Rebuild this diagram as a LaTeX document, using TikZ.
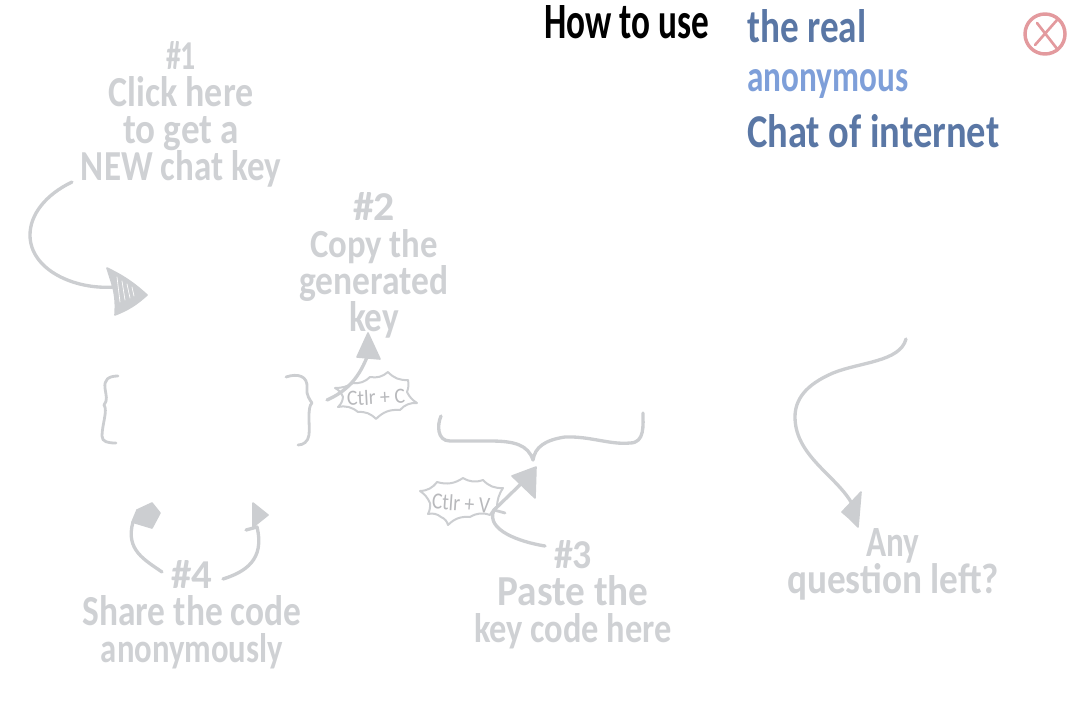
\documentclass[tikz,border=0pt]{standalone}
\usepackage{graphicx}
\usepackage{fontspec}
\setmainfont{Carlito}
\newdimen\pxu \pxu=.75pt
\newcommand\fitw[3]{\rule[-.36\baselineskip]{0pt}{\baselineskip}\smash{\resizebox{#1\pxu}{#2\pxu}{#3}}}
\definecolor{hint}{HTML}{CFD1D4}
\definecolor{hintline}{HTML}{CCCED1}
\definecolor{blued}{HTML}{5A77A5}
\definecolor{bluel}{HTML}{7E9FD9}
\definecolor{closered}{HTML}{E39A9E}
\tikzset{
  hinttext/.style={align=center,inner sep=0pt,text=hint,font=\bfseries\fontsize{24}{27.75}\selectfont},
  titletext/.style={inner sep=0pt,font=\bfseries\fontsize{24}{27.75}\selectfont},
  burstlabel/.style={inner sep=0pt,text=hintline!90!black,font=\fontsize{12}{14}\selectfont},
  curve/.style={draw=hintline,line width=2.5pt,line cap=round,line join=round},
  thincurve/.style={draw=hintline,line width=2.1pt,line cap=round,line join=round},
  tiphead/.style={fill=hintline,draw=hintline,line width=1.2pt,line join=round},
  scribble/.style={draw=white,line width=.5pt,line cap=round},
  burst/.style={draw=hintline,line width=1.5pt,line join=round,fill=white},
}
\begin{document}
\begin{tikzpicture}[x=.75pt,y=-.75pt]
\useasboundingbox (0,0) rectangle (1080,720);
% text blocks
\node[hinttext] (step1) at (181,120) {\fitw{30}{28}{\#1}\\\fitw{145}{30}{Click here}\\\fitw{116}{27}{to get a}\\\fitw{200}{30}{NEW chat key}};
\node[hinttext] (step2) at (374,271) {\fitw{42}{28}{\#2}\\\fitw{128}{28}{Copy the}\\\fitw{149}{29}{generated}\\\fitw{50}{30}{key}};
\node[hinttext] (step3) at (573,600) {\fitw{38}{28}{\#3}\\\fitw{151}{30}{Paste the}\\\fitw{198}{29}{key code here}};
\node[hinttext] (step4) at (192,620) {\fitw{41}{28}{\#4}\\\fitw{219}{30}{Share the code}\\\fitw{182}{29}{anonymously}};
\node[hinttext] (anyq) at (893,570) {\fitw{53}{28}{Any}\\\fitw{212}{30}{question left?}};
\node[titletext,text=black,anchor=base] (howto) at (627,39) {\resizebox{165\pxu}{33\pxu}{How to use}};
\node[titletext,text=blued,anchor=base west] (real) at (747,43) {\resizebox{119\pxu}{33\pxu}{the real}};
\node[titletext,text=bluel,anchor=base west] (anon) at (747,92) {\resizebox{161\pxu}{22\pxu}{anonymous}};
\node[titletext,text=blued,anchor=base west] (chat) at (747,148) {\resizebox{252\pxu}{33\pxu}{Chat of internet}};
% close button
\node[circle,draw=closered,line width=2.6pt,minimum size=30pt,inner sep=0pt] (closebtn) at (1045,34) {};
\coordinate (xa) at (1037,23); \coordinate (xb) at (1058,50);
\coordinate (xc) at (1057,20); \coordinate (xd) at (1035,45);
\draw[draw=closered,line width=2pt,line cap=round] (xa) -- (xb) (xc) -- (xd);
% arrow 1
\coordinate (a1s) at (72,182); \coordinate (a1m) at (30,235); \coordinate (a1e) at (114,287);
\draw[curve] (a1s) .. controls (45,195) and (30,215) .. (a1m) .. controls (30,270) and (75,290) .. (a1e);
\fill[tiphead] (107,268) to[bend left=8] (147,295) to[bend left=10] (115,315) to[bend right=8] (113,287) -- cycle;
\draw[scribble] (117,277) -- (120,302) (122,281) -- (125,300) (127,284) -- (130,298) (132,287) -- (134,296);
% braces
\coordinate (bl1) at (118,376); \coordinate (bl2) at (116,443);
\draw[thincurve] (bl1) .. controls (108,376) and (104,380) .. (105,388) .. controls (106,396) and (108,400) .. (104,405) .. controls (108,410) and (102,425) .. (102,436) .. controls (102,442) and (108,443) .. (bl2);
\coordinate (br1) at (286,377); \coordinate (br2) at (298,445);
\draw[thincurve] (br1) .. controls (298,373) and (308,376) .. (307,388) .. controls (306,395) and (310,400) .. (312,403) .. controls (307,407) and (310,425) .. (309,435) .. controls (308,442) and (303,445) .. (br2);
\coordinate (bb1) at (441,416); \coordinate (bb2) at (643,413); \coordinate (bbt) at (533,460);
\draw[curve] (bb1) .. controls (437,425) and (437,441) .. (450,441) -- (490,441) .. controls (515,441) and (528,445) .. (bbt) .. controls (535,447) and (545,440) .. (565,437) .. controls (590,436) and (610,445) .. (630,443) .. controls (645,443) and (643,425) .. (bb2);
% burst C
\draw[burst] (335,388) to[bend right=15] (353,383) to[bend right=25] (370,377) to[bend right=25] (388,372) to[bend right=25] (408,380) to[bend left=15] (407,392) to[bend right=15] (417,403) to[bend right=25] (400,410) to[bend right=25] (376,419) to[bend right=25] (358,412) to[bend right=25] (338,407) to[bend right=20] (343,397) to[bend right=20] cycle;
\node[burstlabel,rotate=3] (ctrlc) at (376,397) {\resizebox{58\pxu}{15\pxu}{Ctlr + C}};
% arrow 2
\coordinate (a2s) at (327,400); \coordinate (a2e) at (367,357);
\draw[curve] (a2s) .. controls (345,392) and (358,380) .. (a2e);
\fill[tiphead] (368,333) -- (380,359) -- (357,357) -- cycle;
% burst V
\draw[burst] (420,491) to[bend right=25] (437,482) to[bend right=25] (463,478) to[bend right=25] (483,480) to[bend right=25] (503,488) to[bend right=15] (497,507) to[bend right=15] (490,515) to[bend right=25] (470,517) to[bend right=25] (448,525) to[bend right=25] (441,517) to[bend right=25] (428,514) to[bend right=15] (430,503) to[bend right=15] cycle;
\node[burstlabel,rotate=-4] (ctrlv) at (461,503) {\resizebox{58\pxu}{16\pxu}{Ctlr + V}};
% arrow 3
\coordinate (a3s) at (545,546); \coordinate (a3m) at (494,510); \coordinate (a3e) at (525,480); \coordinate (a3t) at (505,513);
\draw[curve] (a3s) .. controls (520,542) and (485,530) .. (a3m) -- (a3e);
\draw[thincurve] (a3m) -- (a3t);
\fill[tiphead] (512,476) -- (536,467) -- (535,498) -- cycle;
% arrow 4 left
\coordinate (a4ls) at (162,572); \coordinate (a4le) at (133,522);
\draw[curve] (a4ls) .. controls (145,560) and (125,550) .. (a4le);
\fill[tiphead] (152,503) -- (160,513) -- (152,528) -- (132,522) -- (137,510) -- cycle;
% arrow 4 right
\coordinate (a4rs) at (223,579); \coordinate (a4re) at (257,527); \coordinate (a4rt) at (246,530);
\draw[curve] (a4rs) .. controls (245,572) and (265,560) .. (a4re) -- (a4rt);
\fill[tiphead] (253,503) -- (268,515) -- (253,527) -- cycle;
% any question arrow
\coordinate (a5s) at (906,339); \coordinate (a5m) at (795,417); \coordinate (a5e) at (851,502);
\draw[curve] (a5s) .. controls (900,362) and (860,362) .. (833,373) .. controls (805,385) and (795,400) .. (a5m) .. controls (795,455) and (835,475) .. (a5e);
\fill[tiphead] (861,492) -- (858,527) -- (849,518) -- (842,512) -- cycle;
\end{tikzpicture}
\end{document}
